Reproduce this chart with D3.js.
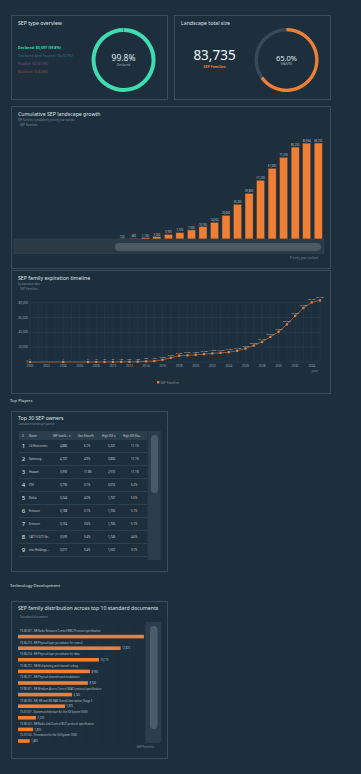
<!DOCTYPE html>
<html>
<head>
<meta charset="utf-8">
<script src="https://cdn.jsdelivr.net/npm/d3@7"></script>
<style>
  html, body { margin: 0; padding: 0; background: #1d2f3d; }
  svg { display: block; font-family: "Noto Sans", "Open Sans", sans-serif; }
</style>
</head>
<body>
<div id="chart"></div>
<script>
// SEP type overview
const sepTypes = ["Declared", "Declared And Pooled", "Pooled", "Blocked"];
const sepTypeCounts = [83597, 76, 62, 0];

// Landscape total size
const totalFamilies = 83735;
const grantedShare = 65.0;

// Cumulative SEP landscape growth (priority year earliest)
const growthYears = ["2007", "2008", "2009", "2010", "2011", "2012", "2013", "2014", "2015",
  "2016", "2017", "2018", "2019", "2020", "2021", "2022", "2023", "2024"];
const growthValues = [120, 480, 1100, 2000, 3900, 5500, 7900, 10700, 14500,
  20600, 30200, 39800, 51200, 61600, 71200, 80200, 83634, 83735];

// SEP family expiration timeline
const expiryYears = ["2000", "2001", "2002", "2003", "2004", "2005", "2006", "2007", "2008",
  "2009", "2010", "2011", "2012", "2013", "2014", "2015", "2016", "2017", "2018", "2019",
  "2020", "2021", "2022", "2023", "2024", "2025", "2026", "2027", "2028", "2029", "2030",
  "2031", "2032", "2033", "2034", "2035"];
const expiryValues = [1, null, null, null, 1, null, null, 11, 15, 20, 38, 150, 250, 480, 900,
  1234, 3000, 5666, 8400, 8900, 9800, 10700, 11600, 12400, 13300, 15100, 18200, 22200,
  27100, 33800, 40800, 50700, 62200, 72900, 80400, 83100];
const expiryTicks = [0, 20000, 40000, 60000, 80000];

// Top 30 SEP owners
const tableColumns = ["#", "Name", "SEP famili...", "Gen.Share%", "High SIS", "High SIS Sha..."];
const ownerNames = ["LG Electronics", "Samsung", "Huawei", "ZTE", "Nokia", "Ericsson",
  "Ericsson", "CATT (CICT) Gr...", "vivo Holdings..."];
const ownerFamilies = [4880, 4707, 3990, 3796, 3244, 3188, 3164, 3099, 3017];
const ownerShares = ["6.1%", "4.9%", "11.8%", "3.1%", "4.0%", "3.1%", "3.6%", "3.4%", "3.4%"];
const ownerHighSis = [5201, 3860, 2970, 3016, 1707, 1706, 1706, 1746, 1567];
const ownerHighShares = ["11.1%", "11.1%", "11.1%", "6.2%", "5.5%", "5.1%", "5.1%", "4.6%", "3.1%"];

// Top 10 standard documents
const docLabels = [
  "TS 38.331 - NR Radio Resource Control (RRC) Protocol specification",
  "TS 38.213 - NR Physical layer procedures for control",
  "TS 38.214 - NR Physical layer procedures for data",
  "TS 38.212 - NR Multiplexing and channel coding",
  "TS 38.211 - NR Physical channels and modulation",
  "TS 38.321 - NR Medium Access Control (MAC) protocol specification",
  "TS 38.300 - NR; NR and NG-RAN Overall description; Stage 2",
  "TS 23.501 - System architecture for the 5G System (5GS)",
  "TS 38.322 - NR Radio Link Control (RLC) protocol specification",
  "TS 23.502 - Procedures for the 5G System (5GS)"];
const docValues = [15740, 12825, 10115, 8990, 8740, 6745, 5870, 2250, 1870, 1460];

const ORANGE = "#ee7f35";
const TEAL = "#3fdcb0";
const CARD_BORDER = "#3b4d5b";
const TITLE = "#dfe5ea";
const MUTED = "#7d8b96";

const svg = d3.select("#chart").append("svg")
  .attr("width", 361)
  .attr("height", 774);

function card(x, y, w, h) {
  svg.append("rect")
    .attr("x", x + 0.5).attr("y", y + 0.5)
    .attr("width", w).attr("height", h)
    .attr("fill", "none")
    .attr("stroke", CARD_BORDER)
    .attr("stroke-width", 1);
}

function label(x, y, txt, size, color, opts = {}) {
  return svg.append("text")
    .attr("x", x).attr("y", y)
    .attr("font-size", size)
    .attr("fill", color)
    .attr("font-weight", opts.weight || "normal")
    .attr("text-anchor", opts.anchor || "start")
    .text(txt);
}

drawTypeOverview();
drawTotalSize();
drawGrowth();
drawExpiry();
drawOwners();
drawDocuments();

// donut with a background ring and a share arc
function donut(cx, cy, r, thick, share, color, bg) {
  const g = svg.append("g").attr("transform", "translate(" + cx + "," + cy + ")");
  const arc = d3.arc().innerRadius(r - thick).outerRadius(r);
  g.append("path")
    .attr("d", arc({ startAngle: 0, endAngle: 2 * Math.PI }))
    .attr("fill", bg);
  g.append("path")
    .attr("d", arc({ startAngle: 0, endAngle: 2 * Math.PI * share }))
    .attr("fill", color);
  return g;
}

function drawTypeOverview() {
  card(11, 15, 156, 84);
  label(18, 25, "SEP type overview", 5.2, TITLE);

  const total = d3.sum(sepTypeCounts);
  const colors = [TEAL, "#2f5b7c", "#6b3f78", "#6a4a36"];
  sepTypes.forEach((t, i) => {
    const pct = (sepTypeCounts[i] / total * 100).toFixed(1);
    label(18, 49 + i * 8, t + ": " + d3.format(",")(sepTypeCounts[i]) + " (" + pct + "%)",
      3.6, colors[i], { weight: "bold" });
  });

  // the declared share fills almost the whole ring
  const pie = d3.pie().sort(null).value(d => d)(sepTypeCounts);
  const g = svg.append("g").attr("transform", "translate(123.5,60)");
  const arc = d3.arc().innerRadius(28).outerRadius(32);
  g.selectAll("path").data(pie).enter().append("path")
    .attr("d", arc)
    .attr("fill", (d, i) => colors[i]);
  g.append("text").attr("y", 1).attr("text-anchor", "middle")
    .attr("font-size", 8.5).attr("fill", TITLE)
    .text((sepTypeCounts[0] / total * 100).toFixed(1) + "%");
  g.append("text").attr("y", 5.5).attr("text-anchor", "middle")
    .attr("font-size", 3.3).attr("fill", "#aab4bc")
    .text(sepTypes[0]);
}

function drawTotalSize() {
  card(174, 15, 156, 84);
  label(181, 25, "Landscape total size", 5.2, TITLE);
  label(214.5, 60, d3.format(",")(totalFamilies), 13.5, "#f2f5f7", { anchor: "middle" });
  label(214.5, 67.5, "SEP Families", 3.6, ORANGE, { anchor: "middle", weight: "bold" });

  const g = donut(286.5, 60, 32, 3.3, grantedShare / 100, ORANGE, "#3a4957");
  g.append("text").attr("y", 1).attr("text-anchor", "middle")
    .attr("font-size", 7.5).attr("fill", TITLE)
    .text(grantedShare.toFixed(1) + "%");
  g.append("text").attr("y", 5).attr("text-anchor", "middle")
    .attr("font-size", 2.6).attr("fill", "#aab4bc")
    .text("GRANTED");
}

function drawGrowth() {
  card(11, 106, 319, 162);
  label(18, 116, "Cumulative SEP landscape growth", 5.2, TITLE);
  label(18, 120.5, "SEP families: cumulatively priority year earliest", 2.6, MUTED);
  label(20, 125.5, "SEP Families", 3, MUTED);

  const x = d3.scaleBand().domain(growthYears).range([116.5, 324]).paddingInner(0.3).paddingOuter(0.15);
  const y = d3.scaleLinear().domain([0, 100000]).range([239, 124.4]);

  const bars = svg.append("g");
  bars.selectAll("rect").data(growthValues).enter().append("rect")
    .attr("x", (d, i) => x(growthYears[i]))
    .attr("y", d => y(d))
    .attr("width", x.bandwidth())
    .attr("height", d => y(0) - y(d))
    .attr("fill", ORANGE)
    .attr("stroke", "#4b3a32")
    .attr("stroke-width", 0.5);
  bars.selectAll("text").data(growthValues).enter().append("text")
    .attr("x", (d, i) => x(growthYears[i]) + x.bandwidth() / 2)
    .attr("y", d => y(d) - 1.2)
    .attr("text-anchor", "middle")
    .attr("font-size", 2.6)
    .attr("fill", "#b9c3ca")
    .text(d => d3.format(",")(d));

  // zoom slider under the bars
  svg.append("rect").attr("x", 14).attr("y", 239).attr("width", 310).attr("height", 14.5)
    .attr("fill", "#2a3b47").attr("stroke", "#34495a").attr("stroke-width", 0.5);
  svg.append("rect").attr("x", 115).attr("y", 243).attr("width", 206).attr("height", 8)
    .attr("rx", 4).attr("fill", "#4a5a65");
  label(318, 258.5, "Priority year earliest", 3, MUTED, { anchor: "end" });
}

function drawExpiry() {
  card(11, 270, 319, 123);
  label(18, 280, "SEP family expiration timeline", 5.2, TITLE);
  label(18, 284.5, "by expiration date", 2.6, MUTED);
  label(20, 290, "SEP Families", 3, MUTED);

  const x = d3.scalePoint().domain(expiryYears).range([30, 320]);
  const y = d3.scaleLinear().domain([0, 80000]).range([362, 302.7]);

  const grid = svg.append("g");
  grid.selectAll("line.v").data(expiryYears).enter().append("line")
    .attr("class", "v")
    .attr("x1", d => x(d)).attr("x2", d => x(d))
    .attr("y1", y(80000)).attr("y2", y(0))
    .attr("stroke", "#293c4a").attr("stroke-width", 0.5);
  grid.selectAll("line.h").data(expiryTicks).enter().append("line")
    .attr("class", "h")
    .attr("x1", 30).attr("x2", 320)
    .attr("y1", d => y(d)).attr("y2", d => y(d))
    .attr("stroke", "#2e4150").attr("stroke-width", 0.5);
  grid.selectAll("text.y").data(expiryTicks).enter().append("text")
    .attr("class", "y")
    .attr("x", 28).attr("y", d => y(d) + 1)
    .attr("text-anchor", "end")
    .attr("font-size", 3).attr("fill", "#9aa6af")
    .text(d => d3.format(",")(d));
  grid.selectAll("text.x").data(expiryYears.filter((d, i) => i % 2 === 0)).enter().append("text")
    .attr("class", "x")
    .attr("x", d => x(d)).attr("y", 366.5)
    .attr("text-anchor", "middle")
    .attr("font-size", 3).attr("fill", "#9aa6af")
    .text(d => d);
  label(318, 372, "year", 3.2, MUTED, { anchor: "end" });

  const pts = expiryYears.map((d, i) => ({ year: d, value: expiryValues[i] }))
    .filter(d => d.value !== null);
  const line = d3.line().x(d => x(d.year)).y(d => y(d.value));
  svg.append("path").datum(pts)
    .attr("d", line)
    .attr("fill", "none")
    .attr("stroke", "#b4652f")
    .attr("stroke-width", 0.8);
  svg.append("g").selectAll("rect").data(pts).enter().append("rect")
    .attr("x", d => x(d.year) - 1.1).attr("y", d => y(d.value) - 1.1)
    .attr("width", 2.2).attr("height", 2.2)
    .attr("fill", ORANGE);
  svg.append("g").selectAll("text").data(pts).enter().append("text")
    .attr("x", d => x(d.year)).attr("y", d => y(d.value) - 2)
    .attr("text-anchor", "middle")
    .attr("font-size", 2.4).attr("fill", "#c1cad0")
    .text(d => d3.format(",")(d.value));

  svg.append("rect").attr("x", 157).attr("y", 381).attr("width", 2.4).attr("height", 2.4).attr("fill", ORANGE);
  label(160.5, 383.5, "SEP Families", 3.2, "#9b8d84");
}

function drawOwners() {
  label(10, 402, "Top Players", 4.2, TITLE);
  card(11, 411, 156, 160);
  label(18, 420, "Top 30 SEP owners", 5.2, TITLE);
  label(18, 424.5, "Cumulative landscape patents", 2.6, MUTED);

  svg.append("rect").attr("x", 19).attr("y", 431).attr("width", 128).attr("height", 9)
    .attr("fill", "#2b3e4c");
  const colX = [22, 29, 53, 78, 102, 123];
  tableColumns.forEach((c, i) => {
    label(colX[i], 437, c + (i === 2 || i === 4 ? " \u25BE" : ""), 2.8, "#c9d1d7");
  });

  const rows = svg.append("g");
  ownerNames.forEach((n, i) => {
    const cy = 446 + i * 13;
    rows.append("text").attr("x", 23.5).attr("y", cy + 2).attr("text-anchor", "middle")
      .attr("font-size", 6).attr("fill", "#e8edf0").text(i + 1);
    rows.append("text").attr("x", 29).attr("y", cy + 1).attr("font-size", 2.8)
      .attr("fill", "#c9d1d7").text(n);
    rows.append("text").attr("x", 60).attr("y", cy + 1).attr("font-size", 2.8)
      .attr("fill", "#c9d1d7").text(d3.format(",")(ownerFamilies[i]));
    rows.append("text").attr("x", 84).attr("y", cy + 1).attr("font-size", 2.8)
      .attr("fill", "#c9d1d7").text(ownerShares[i]);
    rows.append("text").attr("x", 108).attr("y", cy + 1).attr("font-size", 2.8)
      .attr("fill", "#c9d1d7").text(d3.format(",")(ownerHighSis[i]));
    rows.append("text").attr("x", 131).attr("y", cy + 1).attr("font-size", 2.8)
      .attr("fill", "#c9d1d7").text(ownerHighShares[i]);
    rows.append("line").attr("x1", 19).attr("x2", 147)
      .attr("y1", cy + 6.5).attr("y2", cy + 6.5)
      .attr("stroke", "#394c5a").attr("stroke-width", 0.6);
  });

  svg.append("rect").attr("x", 147.5).attr("y", 431).attr("width", 13.5).attr("height", 129)
    .attr("fill", "#2b3d4a");
  svg.append("rect").attr("x", 151).attr("y", 435).attr("width", 7).attr("height", 58)
    .attr("rx", 3.5).attr("fill", "#4a5a66");
}

function drawDocuments() {
  label(10, 587, "Technology Development", 4.2, TITLE);
  card(11, 601, 156, 157);
  label(18, 610, "SEP family distribution across top 10 standard documents", 5.2, TITLE);
  label(20, 618, "Standard document", 3, MUTED);

  const x = d3.scaleLinear().domain([0, 16000]).range([18, 146]);
  const y = d3.scaleBand().domain(docLabels).range([627, 743]);

  const grid = svg.append("g");
  grid.selectAll("line").data(x.ticks(6).slice(1)).enter().append("line")
    .attr("x1", d => x(d)).attr("x2", d => x(d))
    .attr("y1", 627).attr("y2", 743)
    .attr("stroke", "#283b49").attr("stroke-width", 0.5);

  const g = svg.append("g");
  g.selectAll("text.lbl").data(docLabels).enter().append("text")
    .attr("class", "lbl")
    .attr("x", 20).attr("y", d => y(d) + 5)
    .attr("font-size", 2.6).attr("fill", "#b8c2c9")
    .text(d => d);
  g.selectAll("rect").data(docValues).enter().append("rect")
    .attr("x", x(0))
    .attr("y", (d, i) => y(docLabels[i]) + 7.8)
    .attr("width", d => x(d) - x(0))
    .attr("height", 3.6)
    .attr("fill", ORANGE);
  g.selectAll("text.val").data(docValues).enter().append("text")
    .attr("class", "val")
    .attr("x", d => x(d) + 1.5)
    .attr("y", (d, i) => y(docLabels[i]) + 10.8)
    .attr("font-size", 2.6).attr("fill", "#b8c2c9")
    .text(d => d3.format(",")(d));

  svg.append("rect").attr("x", 146).attr("y", 622.5).attr("width", 14.5).attr("height", 120)
    .attr("fill", "#2c3e4b").attr("stroke", "#3a4d5b").attr("stroke-width", 0.4);
  svg.append("rect").attr("x", 150).attr("y", 626).attr("width", 7.5).attr("height", 103)
    .attr("rx", 3.7).attr("fill", "#4c5d6a");
  label(154, 748, "SEP Families", 3, MUTED, { anchor: "end" });
}
</script>
</body>
</html>
